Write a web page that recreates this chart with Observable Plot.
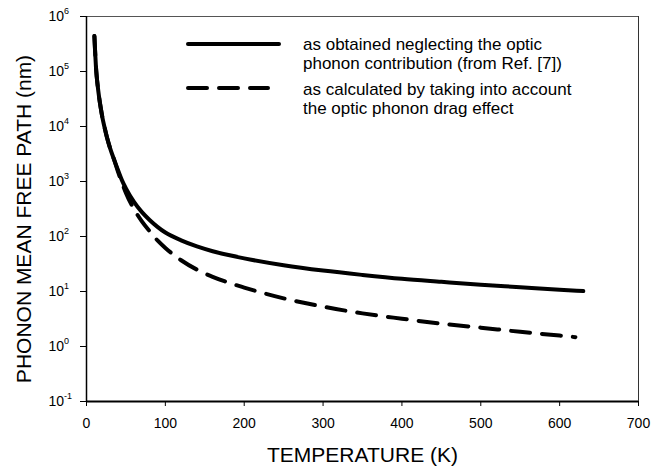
<!DOCTYPE html>
<html><head><meta charset="utf-8">
<script src="https://cdn.jsdelivr.net/npm/d3@7"></script>
<script src="https://cdn.jsdelivr.net/npm/@observablehq/plot@0.6"></script>
<style>
body{margin:0;background:#fff;}
#wrap{position:relative;width:670px;height:468px;}
</style></head><body><div id="wrap"></div>
<script>
// Temperature (K) and phonon mean free path (nm)
const solidT = [10, 11, 12, 13, 14, 16, 18, 20, 23, 26, 30, 35, 40, 45, 50, 60, 70, 80, 90, 100, 120, 140, 160, 180, 200, 250, 300, 350, 400, 450, 500, 550, 600, 630];
const solidL = [4.4e5, 2.2e5, 1.2e5, 8e4, 5.8e4, 3.4e4, 2.2e4, 1.5e4, 9.5e3, 6.3e3, 4.0e3, 2.5e3, 1.6e3, 1.05e3, 750, 430, 280, 200, 150, 118, 85, 66, 54, 46, 40, 30, 24, 20, 17, 15, 13.3, 12, 10.8, 10.2];
const dashT = [10, 11, 12, 13, 14, 16, 18, 20, 23, 26, 30, 35, 40, 45, 50, 60, 70, 80, 90, 100, 120, 140, 160, 180, 200, 250, 300, 350, 400, 450, 500, 550, 600, 620];
const dashL = [4.4e5, 2.2e5, 1.2e5, 8e4, 5.8e4, 3.4e4, 2.2e4, 1.5e4, 9.5e3, 6.3e3, 4.0e3, 2.5e3, 1.5e3, 950, 620, 320, 190, 125, 85, 62, 37, 25, 18.5, 14.5, 11.8, 7.5, 5.3, 4.0, 3.2, 2.6, 2.2, 1.85, 1.58, 1.48];
const xTicks = [0, 100, 200, 300, 400, 500, 600, 700];
const yExponents = [-1, 0, 1, 2, 3, 4, 5, 6];
const legendSolid = ["as obtained neglecting the optic", "phonon contribution (from Ref. [7])"];
const legendDash = ["as calculated by taking into account", "the optic phonon drag effect"];
const xTitle = "TEMPERATURE (K)";
const yTitle = "PHONON MEAN FREE PATH (nm)";

const solid = solidT.map((t, i) => ({t, l: solidL[i]}));
const dashed = dashT.map((t, i) => ({t, l: dashL[i]}));
const yTicks = yExponents.map(e => Math.pow(10, e));

const chart = Plot.plot({
  width: 670, height: 468,
  marginLeft: 86, marginRight: 32, marginTop: 16, marginBottom: 67,
  style: {fontFamily: "'Liberation Sans', Arial, sans-serif", fontSize: "14px", color: "#000", background: "#fff"},
  x: {domain: [0, 700]},
  y: {type: "log", domain: [0.1, 1e6]},
  marks: [
    Plot.ruleY([1e6], {stroke: "#555", strokeWidth: 1}),
    Plot.ruleX([700], {stroke: "#333", strokeWidth: 1}),
    Plot.axisX({ticks: xTicks, tickSize: 5, tickPadding: 12, label: null, fontSize: 14}),
    Plot.axisY({ticks: yTicks, tickSize: 6, tickFormat: () => "", label: null}),
    Plot.ruleX([0], {stroke: "#000", strokeWidth: 1.5}),
    Plot.ruleY([0.1], {stroke: "#000", strokeWidth: 2}),
    Plot.text(yTicks, {y: d => d, frameAnchor: "left", text: () => "10", textAnchor: "start", dx: -38, fontSize: 14}),
    Plot.text(yExponents, {y: e => Math.pow(10, e), frameAnchor: "left", text: e => String(e), textAnchor: "start", dx: -22.4, dy: -5, fontSize: 9}),
    Plot.text([yTitle], {frameAnchor: "left", text: d => d, rotate: -90, dx: -62, dy: 10, fontSize: 21, textAnchor: "middle", lineAnchor: "middle"}),
    Plot.text([xTitle], {frameAnchor: "bottom", text: d => d, dy: 54, fontSize: 21, lineAnchor: "middle"}),
    Plot.line(solid, {x: "t", y: "l", stroke: "#000", strokeWidth: 4, curve: "monotone-x"}),
    Plot.line(dashed, {x: "t", y: "l", stroke: "#000", strokeWidth: 4, curve: "monotone-x", strokeDasharray: "19,12"})
  ]
});
document.getElementById("wrap").appendChild(chart);

// legend inside the plot area
const svg = d3.select(chart);
const lg = svg.append("g").attr("font-family", "'Liberation Sans', Arial, sans-serif").attr("font-size", 17).attr("fill", "#000").attr("text-anchor", "start");
lg.append("line").attr("x1", 188).attr("x2", 279).attr("y1", 44).attr("y2", 44)
  .attr("stroke", "#000").attr("stroke-width", 4).attr("stroke-linecap", "round");
lg.append("line").attr("x1", 188).attr("x2", 268).attr("y1", 88).attr("y2", 88)
  .attr("stroke", "#000").attr("stroke-width", 4).attr("stroke-linecap", "round").attr("stroke-dasharray", "19,12");
legendSolid.forEach((s, i) => lg.append("text").attr("x", 303).attr("y", 50 + i * 19).attr("text-anchor", "start").text(s));
legendDash.forEach((s, i) => lg.append("text").attr("x", 303).attr("y", 95 + i * 19).attr("text-anchor", "start").text(s));
</script></body></html>
